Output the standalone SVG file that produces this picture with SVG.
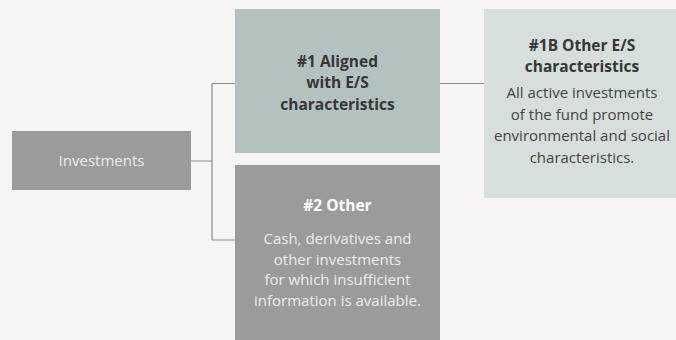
<svg xmlns="http://www.w3.org/2000/svg" width="676" height="340" viewBox="0 0 676 340">
<style>
.t{font-family:"Open Sans","Liberation Sans",sans-serif;font-size:15px;text-anchor:middle}
.b{font-weight:bold;font-size:15.5px}
.lt{fill:#ececec}
.dk{fill:#363636}
.rg{fill:#444444}
.ln{fill:none;stroke:#8c8c8c;stroke-width:1.2}
</style>
<rect width="676" height="340" fill="#f6f5f3"/>
<g id="connectors">
<path class="ln" d="M191 161H212M212 83.5V240M212 83.5H235M212 240H235M440 83.5H484"/>
</g>
<g id="investments">
<rect x="12" y="131" width="179" height="59" fill="#9b9b9b"/>
<text class="t lt" x="101.5" y="166">Investments</text>
</g>
<g id="aligned">
<rect x="235" y="9" width="205" height="144" fill="#b3c1c0"/>
<text class="t b dk" x="337.5" y="66.5">#1 Aligned</text>
<text class="t b dk" x="337.5" y="88">with E/S</text>
<text class="t b dk" x="337.5" y="109.5">characteristics</text>
</g>
<g id="other-es">
<rect x="484" y="9" width="192" height="189" fill="#d6dfdc"/>
<text class="t b dk" x="582" y="51">#1B Other E/S</text>
<text class="t b dk" x="582" y="71.5">characteristics</text>
<text class="t rg" x="582" y="98">All active investments</text>
<text class="t rg" x="582" y="119.5">of the fund promote</text>
<text class="t rg" x="582" y="141">environmental and social</text>
<text class="t rg" x="582" y="162.5">characteristics.</text>
</g>
<g id="other">
<rect x="235" y="165" width="205" height="175" fill="#9b9b9b"/>
<text class="t b" x="337.5" y="211" fill="#ffffff">#2 Other</text>
<text class="t lt" x="337.5" y="244">Cash, derivatives and</text>
<text class="t lt" x="337.5" y="264.5">other investments</text>
<text class="t lt" x="337.5" y="285">for which insufficient</text>
<text class="t lt" x="337.5" y="305.5">information is available.</text>
</g>
</svg>
